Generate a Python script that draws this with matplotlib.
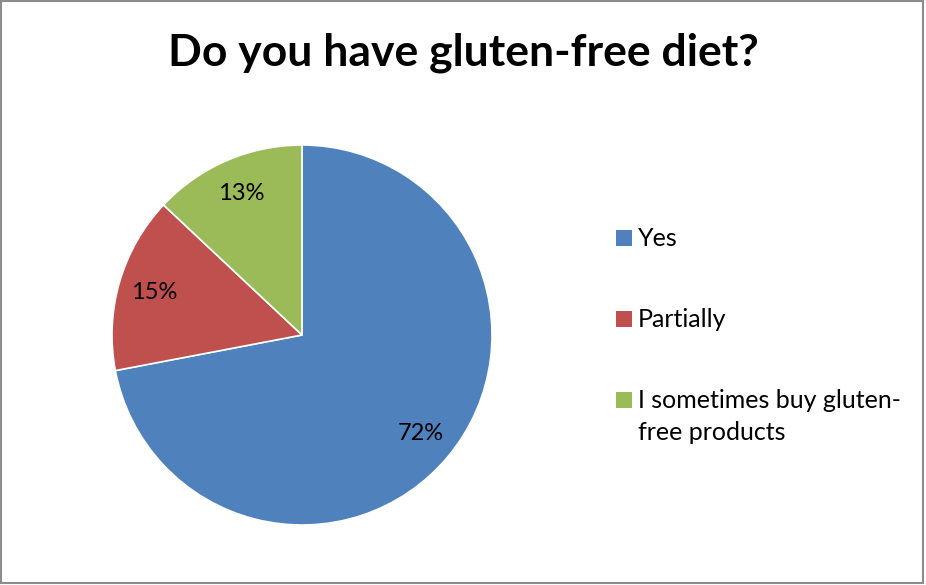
import matplotlib
matplotlib.use("Agg")
import matplotlib.pyplot as plt
from matplotlib.patches import Rectangle

# survey answers
labels = ["Yes", "Partially", "I sometimes buy gluten-\nfree products"]
shares = [72, 15, 13]
colors = ["#4F81BD", "#C0504D", "#9BBB59"]
title = "Do you have gluten-free diet?"

plt.rcParams['font.family'] = ['Lato', 'DejaVu Sans']

fig = plt.figure(figsize=(9.26, 5.85), dpi=100)
W, H = 926, 585

# pie centred at (302, 335) px, radius 190 px
cx, cy, r = 302, 335, 190
ax = fig.add_axes([(cx - r) / W, (H - cy - r) / H, 2 * r / W, 2 * r / H])
wedges, texts, autotexts = ax.pie(
    shares, colors=colors, startangle=90, counterclock=False,
    autopct=lambda p: f"{p:.0f}%", pctdistance=0.81, radius=1,
    wedgeprops=dict(edgecolor="white", linewidth=1.2),
    textprops=dict(fontsize=17, color="black"))
ax.set_xlim(-1, 1)
ax.set_ylim(-1, 1)
ax.set_aspect("equal")

fig.text(463 / W, 1 - 53 / H, title, ha="center", va="center",
         fontsize=32, fontweight="bold")

# legend drawn by hand so the square sits on the first text line
box_y = [230, 311, 392]   # top of each square, px
for lab, col, y in zip(labels, colors, box_y):
    fig.patches.append(Rectangle((616 / W, 1 - (y + 16) / H), 16 / W, 16 / H,
                                 transform=fig.transFigure, facecolor=col,
                                 edgecolor="none"))
    fig.text(638 / W, 1 - (y - 3) / H, lab, ha="left", va="top",
             fontsize=18, linespacing=1.45)

# chart frame
fig.patches.append(Rectangle((0.001, 0.004), 0.996, 0.994, transform=fig.transFigure,
                             fill=False, edgecolor="#8c8c8c", linewidth=1.5))

fig.savefig("out.png", dpi=100)
